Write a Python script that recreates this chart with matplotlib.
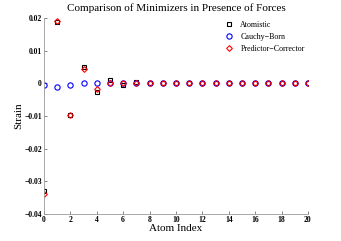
import numpy as np
import matplotlib
matplotlib.use("Agg")
import matplotlib.pyplot as plt

# values
atom_index = list(range(21))
atomistic = [-0.033, 0.0188, -0.0098, 0.005, -0.0025, 0.0010, -0.0004, 0.0003] + [0.0] * 13
cauchy_born = [-0.0005, -0.0010, -0.0006, 0.0, 0.0] + [0.0] * 16
pred_corr = [-0.0340, 0.0192, -0.0098, 0.0043, -0.0018, 0.0, 0.0, 0.0] + [0.0] * 13

xticks = list(range(0, 21, 2))
yticks = [-0.04, -0.03, -0.02, -0.01, 0, 0.01, 0.02]
ytick_labels = ["\u22120.04", "\u22120.03", "\u22120.02", "\u22120.01", "0", "0.01", "0.02"]

plt.rcParams['font.family'] = ['Liberation Serif', 'DejaVu Serif']

fig = plt.figure(figsize=(3.41, 2.41), dpi=100)
ax = fig.add_axes([0.129, 0.112, 0.774, 0.813])

ax.plot(atom_index, atomistic, 's', mfc='none', mec='black', ms=3.2, mew=0.8, label='Atomistic')
ax.plot(atom_index, cauchy_born, 'o', mfc='none', mec='blue', ms=3.8, mew=0.8, label='Cauchy\u2212Born')
ax.plot(atom_index, pred_corr, 'D', mfc='none', mec='red', ms=2.9, mew=0.8, label='Predictor\u2212Corrector')

ax.set_xlim(0, 20)
ax.set_ylim(-0.04, 0.02)
ax.set_xticks(xticks)
ax.set_xticklabels([str(t) for t in xticks], fontsize=5.5, fontweight='bold')
ax.set_yticks(yticks)
ax.set_yticklabels(ytick_labels, fontsize=5.5, fontweight='bold')
ax.tick_params(direction='in', length=2, width=0.5, colors='#555555', pad=1.5)
for lbl in ax.get_xticklabels() + ax.get_yticklabels():
    lbl.set_color('black')

for side in ['top', 'right']:
    ax.spines[side].set_visible(False)
for side in ['left', 'bottom']:
    ax.spines[side].set_color('#999999')
    ax.spines[side].set_linewidth(0.6)

ax.set_title('Comparison of Minimizers in Presence of Forces', fontsize=8, pad=5)
ax.set_xlabel('Atom Index', fontsize=8, labelpad=0)
ax.set_ylabel('Strain', fontsize=8, labelpad=1)

ax.legend(loc='upper right', frameon=False, fontsize=5.8, handletextpad=0.8,
          handlelength=1.2, labelspacing=0.45, borderaxespad=0.0,
          bbox_to_anchor=(1.0, 1.0))

fig.savefig('out.png', dpi=100)
